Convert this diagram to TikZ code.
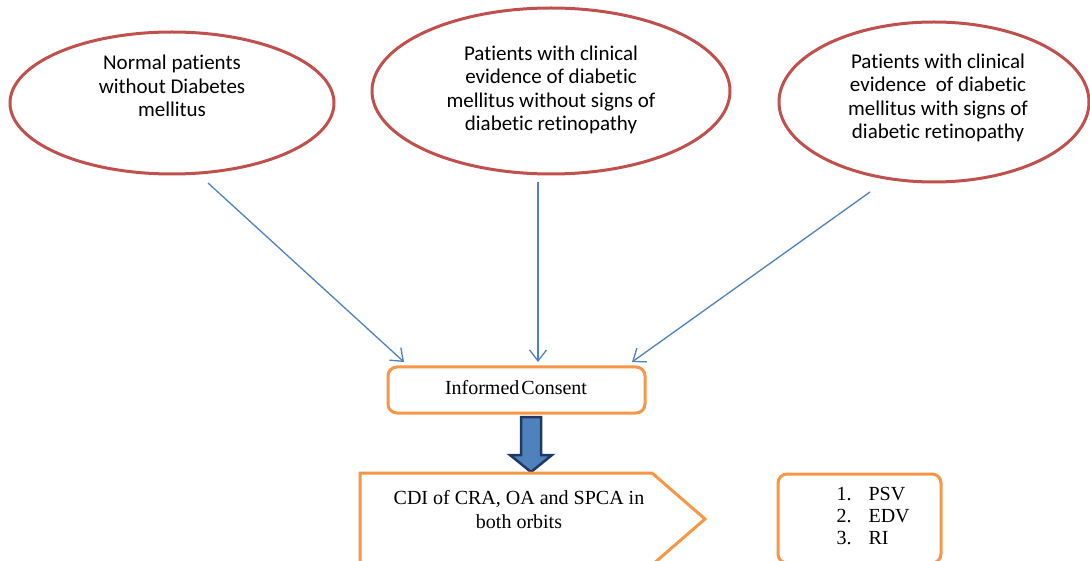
\documentclass[tikz,border=0pt]{standalone}
\usepackage{fontspec}
\setmainfont{Liberation Serif}
\newfontfamily\calib[Ligatures=NoCommon]{Carlito}
\usetikzlibrary{arrows.meta,shapes.geometric}
\definecolor{ellred}{HTML}{C0504D}
\definecolor{arrblue}{HTML}{4F81BD}
\definecolor{boxorange}{HTML}{F79646}
\definecolor{navy}{HTML}{1F3864}
\tikzset{
  ell/.style={draw=ellred, line width=3pt, fill=white},
  etext/.style={font=\calib\fontsize{21}{23.5}\selectfont, align=center},
  conn/.style={draw=arrblue, line width=1.3pt, -{Straight Barb[length=11pt,width=17pt,line width=1.3pt]}},
  obox/.style={draw=boxorange, line width=3pt, rounded corners=9pt, fill=white},
  btext/.style={font=\fontsize{20}{24}\selectfont, align=center},
  ltext/.style={font=\fontsize{20}{22}\selectfont, anchor=west},
}
\begin{document}
\begin{tikzpicture}[x=1pt,y=-1pt]
\useasboundingbox (0,0) rectangle (1090,561);
\clip (0,0) rectangle (1090,561);
% ellipses
\draw[ell] (172,103) ellipse [x radius=162, y radius=71];
\node[etext] (e1) at (172,86) {Normal patients\\without Diabetes\\mellitus};
\draw[ell] (551,91) ellipse [x radius=179, y radius=83];
\node[etext] (e2) at (551,90) {Patients with clinical\\evidence of diabetic\\mellitus without signs of\\diabetic retinopathy};
\draw[ell] (934,102) ellipse [x radius=155, y radius=80];
\node[etext] (e3) at (938,98) {Patients with clinical\\evidence\ \ of diabetic\\mellitus with signs of\\diabetic retinopathy};
% informed consent
\draw[obox] (388,367) rectangle (645,413);
\node[btext] (ic) at (516,388) {Informed\hspace{2pt}Consent};
% connectors
\coordinate (s1) at (208,183);
\coordinate (t1) at (404,362);
\coordinate (s2) at (538,182);
\coordinate (t2) at (538,362);
\coordinate (s3) at (870,192);
\coordinate (t3) at (632,362);
\draw[conn] (s1) -- (t1);
\draw[conn] (s2) -- (t2);
\draw[conn] (s3) -- (t3);
% block arrow
\draw[draw=navy, fill=arrblue, line width=2.5pt, line join=miter]
  (521,417) -- (541,417) -- (541,455) -- (552,455) -- (531,472) -- (510,455) -- (521,455) -- cycle;
% pentagon
\draw[draw=boxorange, line width=3pt, line join=miter, fill=white]
  (360,600) -- (360,473) -- (652,473) -- (705,519) -- (652,565) -- (652,600);
\node[btext] (cdi) at (519,510) {CDI of CRA, OA and SPCA in\\both orbits};
% list box
\draw[obox] (778,474) rectangle (941,563);
\node[ltext] (l1) at (833,494) {1.\hspace{17pt}PSV};
\node[ltext] (l2) at (833,516) {2.\hspace{17pt}EDV};
\node[ltext] (l3) at (833,538) {3.\hspace{17pt}RI};
\end{tikzpicture}
\end{document}
